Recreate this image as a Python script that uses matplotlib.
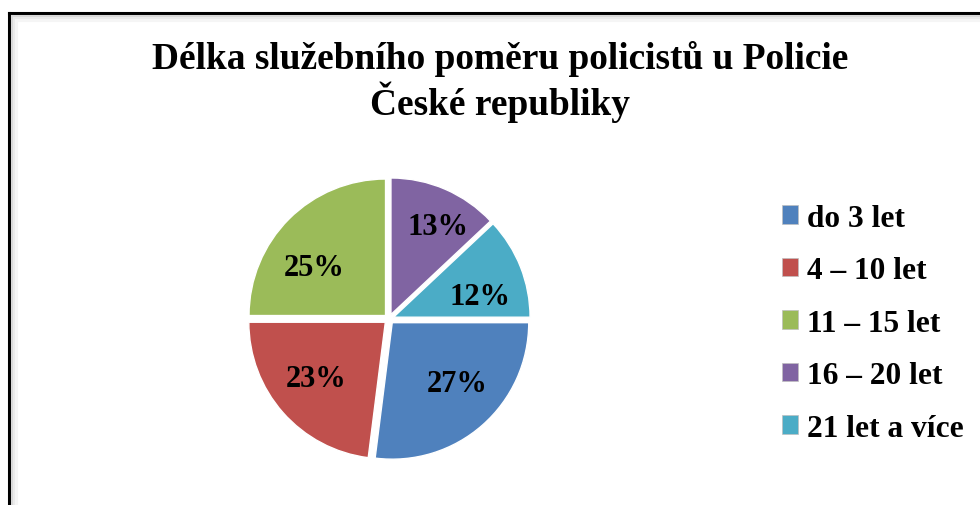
import matplotlib
matplotlib.use("Agg")
import matplotlib.pyplot as plt
from matplotlib.patches import Patch
from matplotlib.lines import Line2D
from matplotlib.transforms import offset_copy

categories = ["do 3 let", "4 – 10 let", "11 – 15 let", "16 – 20 let", "21 let a více"]
shares = [27, 23, 25, 13, 12]
colors = ["#4F81BD", "#C0504D", "#9BBB59", "#8064A2", "#4BACC6"]
title = "Délka služebního poměru policistů u Policie\nČeské republiky"

plt.rcParams["font.family"] = ["Liberation Serif", "DejaVu Serif"]
plt.rcParams["font.weight"] = "bold"

W, H = 980, 506
fig = plt.figure(figsize=(W / 100, H / 100), dpi=100)

# frame with a soft inner shadow, like the exported office chart
for off, col in [(0, "black"), (2.5, "#d8d8d8"), (4.5, "#eaeaea"), (6.5, "#f5f5f5")]:
    x0 = (9 + off) / W
    y1 = 1 - (14 + off) / H
    fig.add_artist(Line2D([x0, x0], [-0.01, y1], color=col, lw=2.2, transform=fig.transFigure))
    fig.add_artist(Line2D([x0, 1.01], [y1, y1], color=col, lw=2.2, transform=fig.transFigure))

fig.text(500 / W, 1 - 82 / H, title, ha="center", va="center", fontsize=26.9,
         fontweight="bold", linespacing=1.12)

# pie axes: center (389, 320) px
R = 140
half = 1.1 * R
cx, cy = 389, H - 320
ax = fig.add_axes([(cx - half) / W, (cy - half) / H, 2 * half / W, 2 * half / H])

wedges, texts, autotexts = ax.pie(
    shares, colors=colors, startangle=0, counterclock=False,
    explode=[0.035] * len(shares), radius=0.975,
    autopct=lambda p: f"{p:.0f}%", pctdistance=0.68,
    wedgeprops=dict(edgecolor="white", linewidth=1.0),
    textprops=dict(fontsize=22, fontweight="bold", color="black"),
)
ax.set_xlim(-1.1, 1.1)
ax.set_ylim(-1.1, 1.1)
ax.axis("off")

# office places the percent labels a bit off the bisector
nudges = [(2.9, 6.5), (0, 3.6), (-4.3, -13), (7.2, 2.2), (0, -9.4)]
for t, (dx, dy) in zip(autotexts, nudges):
    t.set_transform(offset_copy(ax.transData, fig=fig, x=dx, y=dy, units="points"))

handles = [Patch(facecolor=c, edgecolor="#bfbfbf", linewidth=0.5) for c in colors]
fig.legend(handles, categories, loc="upper left", bbox_to_anchor=(769 / W, 1 - 192 / H),
           frameon=False, prop=dict(size=22.6, weight="bold"), handlelength=0.52,
           handleheight=0.52, handletextpad=0.28, labelspacing=0.75, borderaxespad=0)

fig.savefig("out.png", dpi=100, facecolor="white")
